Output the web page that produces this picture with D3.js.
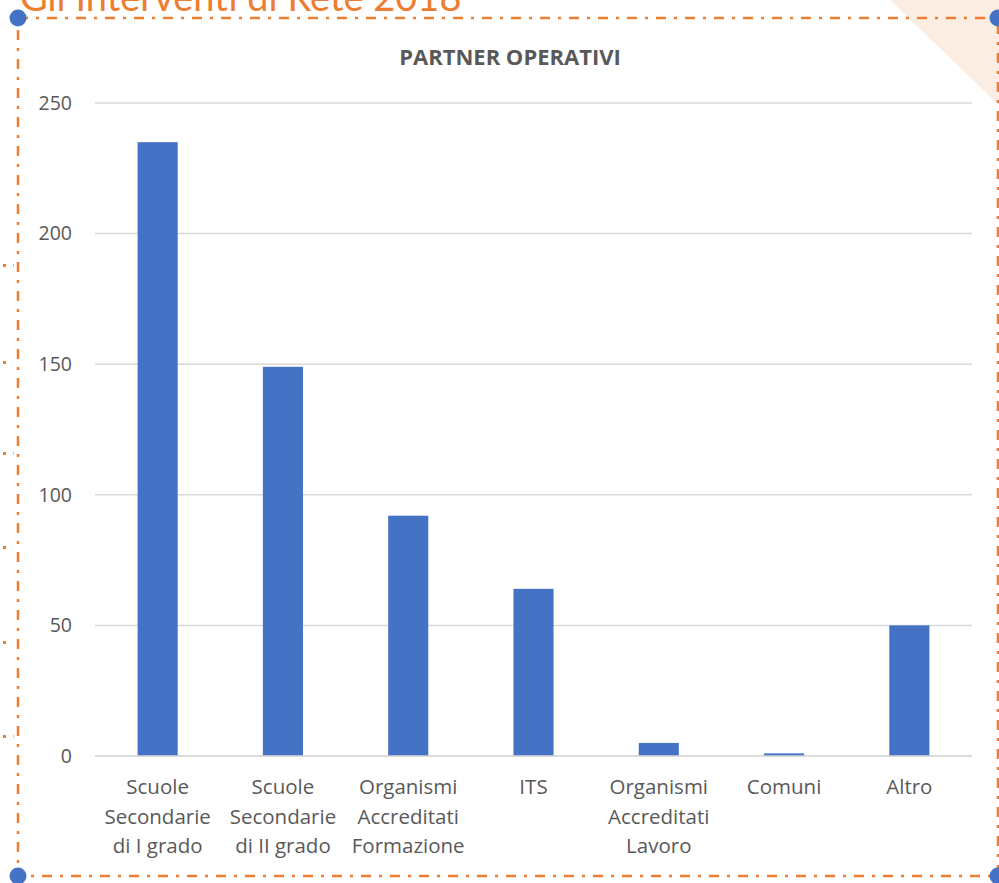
<!DOCTYPE html>
<html lang="en">
<head>
  <meta charset="UTF-8">
  <title>Partner Operativi</title>
  <script src="https://d3js.org/d3.v7.min.js"></script>
  <style>
    body { margin: 0; background: #fff; font-family: "Open Sans", Arial, sans-serif; }
    svg { display: block; }
  </style>
</head>
<body>
  <div id="chart"></div>
  <script>
    // chart data
    const categories = [
      ["Scuole", "Secondarie", "di I grado"],
      ["Scuole", "Secondarie", "di II grado"],
      ["Organismi", "Accreditati", "Formazione"],
      ["ITS"],
      ["Organismi", "Accreditati", "Lavoro"],
      ["Comuni"],
      ["Altro"]
    ];
    const values = [235, 149, 92, 64, 5, 1, 50];
    const yTicks = [0, 50, 100, 150, 200, 250];

    const width = 999, height = 883;
    const margin = { top: 103, right: 27, bottom: 127, left: 95 };
    const orange = "#ED7D31", blue = "#4472C4", grey = "#595959";

    const svg = d3.select("#chart").append("svg").attr("width", width).attr("height", height);

    // slide decoration
    svg.append("path").attr("d", "M890,0 L999,0 L999,105 Z").attr("fill", "#FCEDE2");
    svg.append("text").attr("x", 20).attr("y", 11)
      .attr("fill", orange).style("font-size", "38px").style("font-family", "Lato, 'Open Sans', sans-serif")
      .text("Gli Interventi di Rete 2018");

    // small marks from the shape behind, on the left
    [265, 362, 453, 547, 642, 736].forEach(y => {
      svg.append("rect").attr("x", 3).attr("y", y - 1).attr("width", 3).attr("height", 3).attr("fill", orange);
    });
    [265, 453, 736].forEach(y => {
      svg.append("rect").attr("x", 13).attr("y", y - 1).attr("width", 1).attr("height", 3).attr("fill", orange).attr("opacity", 0.5);
    });

    const x = d3.scaleBand().domain(d3.range(categories.length))
      .range([margin.left, width - margin.right]).paddingInner(0.68).paddingOuter(0.34);
    const y = d3.scaleLinear().domain([0, 250]).range([height - margin.bottom, margin.top]);

    // gridlines
    svg.append("g").selectAll("line").data(yTicks).join("line")
      .attr("x1", margin.left).attr("x2", width - margin.right)
      .attr("y1", d => y(d)).attr("y2", d => y(d))
      .attr("stroke", "#D9D9D9").attr("stroke-width", 1.5);

    // y labels
    svg.append("g").selectAll("text").data(yTicks).join("text")
      .attr("x", 72).attr("y", d => y(d)).attr("dy", "0.35em")
      .attr("text-anchor", "end").attr("fill", grey).style("font-size", "19.5px")
      .text(d => d);

    // bars
    svg.append("g").selectAll("rect").data(values).join("rect")
      .attr("x", (d, i) => x(i)).attr("width", x.bandwidth())
      .attr("y", d => y(d)).attr("height", d => y(0) - y(d))
      .attr("fill", blue);

    // baseline
    svg.append("line").attr("x1", margin.left).attr("x2", width - margin.right)
      .attr("y1", y(0)).attr("y2", y(0)).attr("stroke", "#D9D9D9").attr("stroke-width", 1.5);

    // category labels
    const lab = svg.append("g").selectAll("text").data(categories).join("text")
      .attr("x", (d, i) => x(i) + x.bandwidth() / 2).attr("y", y(0) + 38)
      .attr("text-anchor", "middle").attr("fill", grey).style("font-size", "20.5px");
    lab.selectAll("tspan").data(d => d).join("tspan")
      .attr("x", function () { return this.parentNode.getAttribute("x"); })
      .attr("dy", (d, i) => i === 0 ? 0 : 29.5)
      .text(d => d);

    // chart title
    svg.append("text").attr("x", 510).attr("y", 65).attr("text-anchor", "middle")
      .attr("fill", grey).style("font-size", "22px").style("font-weight", "bold")
      .text("PARTNER OPERATIVI");

    // selection frame
    const fx0 = 18, fy0 = 18, fx1 = 998, fy1 = 876;
    svg.append("rect").attr("x", fx0).attr("y", fy0).attr("width", fx1 - fx0).attr("height", fy1 - fy0)
      .attr("fill", "none").attr("stroke", orange).attr("stroke-width", 2.5)
      .attr("stroke-dasharray", "10,8,3,8");
    [[fx0, fy0], [fx1, fy0], [fx0, fy1], [fx1, fy1]].forEach(([cx, cy]) => {
      svg.append("circle").attr("cx", cx).attr("cy", cy).attr("r", 8.5).attr("fill", blue);
    });
  </script>
</body>
</html>
